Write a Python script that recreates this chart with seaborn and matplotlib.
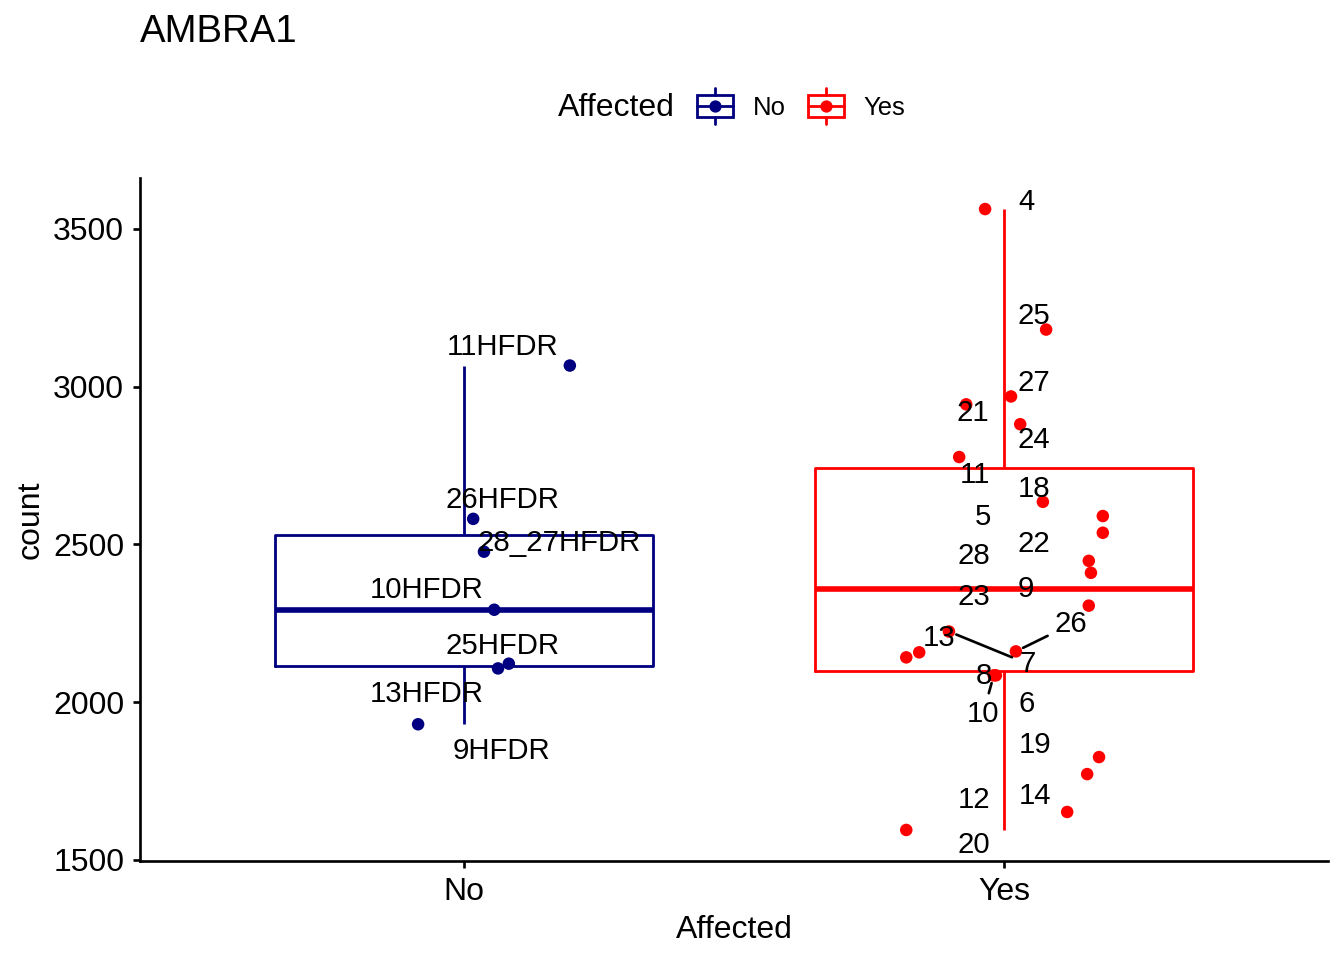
import numpy as np
import pandas as pd
import matplotlib
matplotlib.use("Agg")
import matplotlib.pyplot as plt
import seaborn as sns
from matplotlib.legend_handler import HandlerBase
from matplotlib.patches import Rectangle
from matplotlib.lines import Line2D

# ---- data ----
groups = ["No", "Yes"]
colors = {"No": "#000080", "Yes": "#FF0000"}

no_labels = ["11HFDR", "26HFDR", "28_27HFDR", "10HFDR", "25HFDR", "9HFDR", "13HFDR"]
no_counts = [3067, 2581, 2477, 2293, 2122, 2107, 1930]
no_jitter = [0.196, 0.017, 0.037, 0.056, 0.083, 0.063, -0.085]

yes_labels = ["4", "25", "27", "21", "24", "11", "18", "5", "22", "28", "9",
              "23", "7", "26", "6", "13", "8", "10", "19", "14", "12", "20"]
yes_counts = [3563, 3181, 2969, 2944, 2881, 2777, 2635, 2590, 2537, 2448, 2410,
              2306, 2224, 2161, 2142, 2158, 2085, 2085, 1826, 1772, 1652, 1595]
yes_jitter = [-0.035, 0.078, 0.013, -0.070, 0.030, -0.083, 0.072, 0.183, 0.183, 0.157, 0.161,
              0.157, -0.102, 0.022, -0.181, -0.157, -0.015, -0.019, 0.176, 0.154, 0.117, -0.181]

# repelled label placement (x offset from group centre, y in data units)
no_text_dx = [0.072, 0.072, 0.176, -0.070, 0.072, 0.070, -0.070]
no_text_y = [3136, 2650, 2514, 2364, 2188, 1856, 2034]
yes_text_dx = [0.041, 0.056, 0.056, -0.057, 0.056, -0.054, 0.056, -0.039, 0.056, -0.056, 0.041,
               -0.056, 0.043, 0.124, 0.041, -0.120, -0.037, -0.039, 0.057, 0.057, -0.056, -0.056]
yes_text_y = [3596, 3233, 3021, 2927, 2840, 2728, 2686, 2598, 2510, 2472, 2368,
              2342, 2132, 2256, 2003, 2212, 2094, 1971, 1873, 1713, 1700, 1557]
segment_labels = ["7", "26", "10"]

df = pd.DataFrame({
    "Affected": ["No"] * len(no_counts) + ["Yes"] * len(yes_counts),
    "count": no_counts + yes_counts,
    "label": no_labels + yes_labels,
    "jitter": no_jitter + yes_jitter,
    "text_dx": no_text_dx + yes_text_dx,
    "text_y": no_text_y + yes_text_y,
})
df["code"] = df["Affected"].map({g: i for i, g in enumerate(groups)})
df["xpos"] = df["code"] + df["jitter"]

# ---- style ----
sns.set_style("ticks")
plt.rcParams["font.family"] = ["Liberation Sans", "DejaVu Sans"]
plt.rcParams["text.color"] = "black"
plt.rcParams["axes.labelcolor"] = "black"
plt.rcParams["axes.edgecolor"] = "black"
plt.rcParams["axes.linewidth"] = 1.0
plt.rcParams["xtick.major.width"] = 1.0
plt.rcParams["ytick.major.width"] = 1.0
plt.rcParams["xtick.major.size"] = 2.7
plt.rcParams["ytick.major.size"] = 2.7
plt.rcParams["xtick.color"] = "black"
plt.rcParams["ytick.color"] = "black"

fig = plt.figure(figsize=(7, 5), dpi=192)
ax = fig.add_axes([140 / 1344, 1 - 861 / 960, 1188 / 1344, 683 / 960])

sns.boxplot(data=df, x="Affected", y="count", hue="Affected", order=groups,
            hue_order=groups, palette=colors, fill=False, width=0.7,
            showcaps=False, showfliers=False, linewidth=1.05,
            medianprops={"linewidth": 2.1}, legend=False, ax=ax)

sns.scatterplot(data=df, x="xpos", y="count", hue="Affected", hue_order=groups,
                palette=colors, s=22, linewidth=0, legend=False, ax=ax, zorder=5)

for _, row in df.iterrows():
    tx = row["code"] + row["text_dx"]
    if row["Affected"] == "Yes" and row["label"] in segment_labels:
        ax.annotate(row["label"], xy=(row["xpos"], row["count"]), xytext=(tx, row["text_y"]),
                    ha="center", va="center_baseline", fontsize=11, color="black", zorder=6,
                    arrowprops=dict(arrowstyle="-", color="black", lw=1.0,
                                    shrinkA=0.5, shrinkB=3))
    else:
        ax.text(tx, row["text_y"], row["label"], ha="center", va="center_baseline",
                fontsize=11, color="black", zorder=6)

ax.set_xlim(-0.6, 1.6)
ax.set_ylim(1496.6, 3661.4)
ax.set_yticks([1500, 2000, 2500, 3000, 3500])
ax.set_xticks([0, 1])
ax.set_xticklabels(groups)
ax.tick_params(labelsize=12, pad=3.2)
ax.set_xlabel("Affected", fontsize=12, labelpad=3)
ax.set_ylabel("count", fontsize=12, labelpad=3)
sns.despine(ax=ax)

fig.text(140 / 1344, 1 - 32 / 960, "AMBRA1", fontsize=14.4, ha="left", va="center")


# legend: boxplot keys like ggplot
class BoxKey(HandlerBase):
    def create_artists(self, legend, orig_handle, xdescent, ydescent, width, height, fontsize, trans):
        c = orig_handle.get_color()
        x0 = -xdescent
        xm = x0 + width / 2
        yc = -ydescent + height / 2
        bh = 8.4
        wh = 13.4
        box = Rectangle((x0, yc - bh / 2), width, bh, fill=False, edgecolor=c, lw=1.05, transform=trans)
        med = Line2D([x0, x0 + width], [yc, yc], color=c, lw=1.05, transform=trans)
        up = Line2D([xm, xm], [yc + bh / 2, yc + wh / 2], color=c, lw=1.05, transform=trans)
        dn = Line2D([xm, xm], [yc - bh / 2, yc - wh / 2], color=c, lw=1.05, transform=trans)
        dot = Line2D([xm], [yc], marker="o", ms=4.6, color=c, mec="none", transform=trans)
        return [box, med, up, dn, dot]


handles = [Line2D([], [], color=colors[g], label=g) for g in groups]
fig.text(558 / 1344, 1 - 108 / 960, "Affected", fontsize=12, ha="left", va="center")
fig.legend(handles=handles, handler_map={Line2D: BoxKey()}, loc="center left",
           bbox_to_anchor=(697 / 1344, 1 - 108 / 960), ncol=2, frameon=False,
           fontsize=9.6, handlelength=1.41, handletextpad=0.78, columnspacing=0.85,
           borderpad=0, borderaxespad=0)

fig.savefig("out.png", dpi=192)
